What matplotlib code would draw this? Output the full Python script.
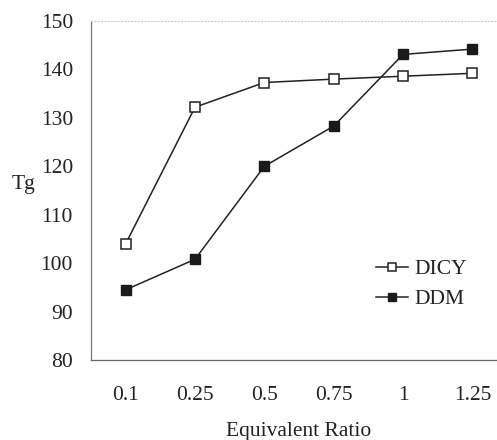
import matplotlib
matplotlib.use("Agg")
import matplotlib.pyplot as plt

categories = ["0.1", "0.25", "0.5", "0.75", "1", "1.25"]
dicy = [104.0, 132.2, 137.3, 138.0, 138.6, 139.2]
ddm = [94.5, 100.8, 120.0, 128.3, 143.1, 144.2]
yticks = [80, 90, 100, 110, 120, 130, 140, 150]

plt.rcParams['font.family'] = ['Liberation Serif', 'DejaVu Serif']

W, H = 497, 440
FS = 15.5
fig = plt.figure(figsize=(W / 100, H / 100), dpi=100)
ax = fig.add_axes([91 / W, 1 - 360 / H, (W - 91) / W, (360 - 21) / H])

x = list(range(len(categories)))
ax.plot(x, dicy, color='#222222', lw=1.1, marker='s', markersize=6.5,
        markerfacecolor='white', markeredgecolor='#222222', markeredgewidth=1.1, label='DICY')
ax.plot(x, ddm, color='#222222', lw=1.1, marker='s', markersize=6.5,
        markerfacecolor='#1a1a1a', markeredgecolor='#1a1a1a', label='DDM')

ax.set_xlim(-0.5, 5.355)
ax.set_ylim(80, 150)
ax.set_xticks(x)
ax.set_xticklabels(categories)
ax.set_yticks(yticks)
ax.tick_params(axis='both', length=0, labelsize=FS, colors='#222222')
ax.tick_params(axis='x', pad=19)
ax.tick_params(axis='y', pad=13)

ax.spines['right'].set_visible(False)
ax.spines['top'].set_color('#cccccc')
ax.spines['top'].set_linestyle((0, (1, 2)))
ax.spines['top'].set_linewidth(0.8)
ax.spines['left'].set_color('#777777')
ax.spines['left'].set_linewidth(0.9)
ax.spines['bottom'].set_color('#666666')
ax.spines['bottom'].set_linewidth(0.9)

fig.text(23 / W, 1 - 185 / H, 'Tg', fontsize=FS, ha='center', va='center', color='#222222')
fig.text(299 / W, 1 - 436 / H, 'Equivalent Ratio', fontsize=FS, ha='center', va='baseline', color='#222222')

leg = ax.legend(loc='upper left', bbox_to_anchor=((376 - 91) / (W - 91), (360 - 259) / (360 - 21)),
                frameon=False, fontsize=FS, handlelength=1.5, handletextpad=0.3,
                labelspacing=0.47, borderaxespad=0, borderpad=0, markerscale=0.8)
for t in leg.get_texts():
    t.set_color('#222222')

fig.savefig('out.png', dpi=100)
